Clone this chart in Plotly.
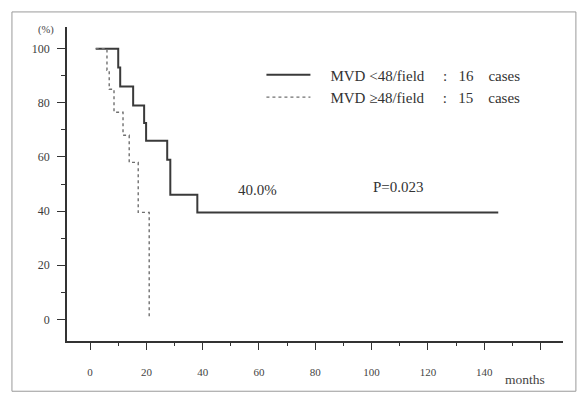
import plotly.graph_objects as go

# Kaplan-Meier style survival curves (months, %)
low_mvd_months = [2, 10, 10.7, 15.3, 19.2, 19.9, 27.4, 28.5, 38.1, 145]
low_mvd_surv = [100, 93, 86, 79, 72.5, 66, 59, 46, 39.5, 39.5]

high_mvd_months = [2, 6, 6.8, 8.5, 11.7, 13.9, 17.1, 21]
high_mvd_surv = [100, 92, 85, 76.5, 68, 58, 39.5, 0]

x_ticks = [0, 20, 40, 60, 80, 100, 120, 140, 160]
x_tick_labels = ["0", "20", "40", "60", "80", "100", "120", "140", ""]
y_ticks = [0, 20, 40, 60, 80, 100]
y_tick_labels = ["0", "20", "40", "60", "80", "100"]

NB = "\u00a0"
label_low = NB * 4 + "MVD &lt;48/field" + NB * 5 + ":" + NB * 3 + "16" + NB * 4 + "cases"
label_high = NB * 4 + "MVD ≥48/field" + NB * 5 + ":" + NB * 3 + "15" + NB * 4 + "cases"

SERIF = "Liberation Serif, Times New Roman, serif"
INK = "#333333"

fig = go.Figure()
fig.add_trace(go.Scatter(
    x=low_mvd_months, y=low_mvd_surv, mode="lines", line_shape="hv",
    line=dict(color="#3a3a3a", width=2), name=label_low,
))
fig.add_trace(go.Scatter(
    x=high_mvd_months, y=high_mvd_surv, mode="lines", line_shape="hv",
    line=dict(color="#707070", width=1.4, dash="dot"), name=label_high,
))

fig.update_layout(
    width=580, height=394,
    margin=dict(l=67, r=17, t=27, b=53),
    paper_bgcolor="white", plot_bgcolor="white",
    font=dict(family=SERIF, color=INK),
    showlegend=True,
    legend=dict(
        x=0.392, y=0.90, xanchor="left", yanchor="top",
        font=dict(family=SERIF, size=15, color=INK),
        itemwidth=44, bgcolor="rgba(0,0,0,0)", tracegroupgap=0,
    ),
    xaxis=dict(
        range=[-8.2, 168], showgrid=False, zeroline=False,
        showline=True, linecolor=INK, linewidth=1.5,
        tickmode="array", tickvals=x_ticks, ticktext=x_tick_labels,
        ticks="outside", ticklen=7, tickcolor=INK, tickwidth=1,
        minor=dict(dtick=10, ticks="outside", ticklen=3, tickcolor=INK),
        tickfont=dict(family=SERIF, size=11, color="#444444"),
        ticklabelstandoff=13,
    ),
    yaxis=dict(
        range=[-8, 108], showgrid=False, zeroline=False,
        showline=True, linecolor=INK, linewidth=1.5,
        tickmode="array", tickvals=y_ticks, ticktext=y_tick_labels,
        ticks="outside", ticklen=8, tickcolor=INK, tickwidth=1,
        minor=dict(dtick=10, ticks="outside", ticklen=4, tickcolor=INK),
        tickfont=dict(family=SERIF, size=12, color="#3c3c3c"),
        ticklabelstandoff=5,
    ),
    shapes=[dict(
        type="rect", xref="paper", yref="paper",
        x0=-0.111, x1=1.026, y0=-0.160, y1=1.048,
        line=dict(color="#9a9a9a", width=1),
    )],
    annotations=[
        dict(text="(%)", xref="paper", yref="paper", x=-0.042, y=0.99,
             xanchor="center", yanchor="middle",
             showarrow=False, font=dict(family=SERIF, size=10.5, color="#444444")),
        dict(text="months", xref="paper", yref="paper", x=0.923, y=-0.124,
             xanchor="center", yanchor="middle",
             showarrow=False, font=dict(family=SERIF, size=13.5, color="#444444")),
        dict(text="40.0%", xref="x", yref="y", x=59.5, y=47.8,
             xanchor="center", yanchor="middle",
             showarrow=False, font=dict(family=SERIF, size=15, color=INK)),
        dict(text="P=0.023", xref="x", yref="y", x=109.5, y=48.9,
             xanchor="center", yanchor="middle",
             showarrow=False, font=dict(family=SERIF, size=15, color=INK)),
    ],
)

fig.write_html(
    "out.html",
    config={"displayModeBar": False},
    post_script="document.body.style.margin='0';document.body.style.overflow='hidden';",
)
